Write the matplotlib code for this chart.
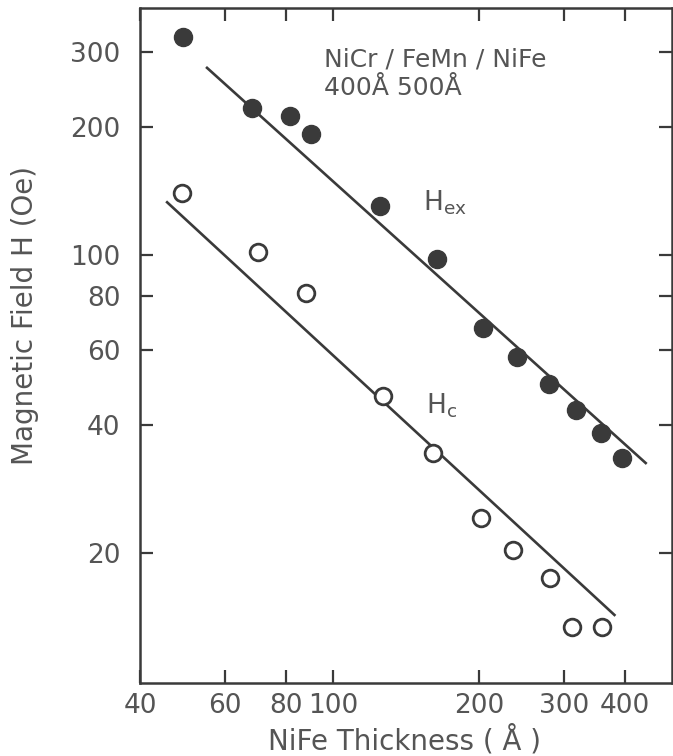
import numpy as np
import matplotlib
matplotlib.use('Agg')
import matplotlib.pyplot as plt
from matplotlib.ticker import FixedLocator, NullLocator, FixedFormatter

# H_ex (filled circles)
hex_thick = [49, 68, 81.5, 90, 125, 164, 204, 240, 279, 317, 357, 394]
hex_field = [325, 221, 212, 192, 130, 98, 67.4, 57.6, 49.8, 43.3, 38.2, 33.4]
# H_c (open circles)
hc_thick = [48.8, 70, 88, 127, 161, 202, 235, 281, 312, 359]
hc_field = [140, 101.6, 81.4, 46.7, 34.3, 24.1, 20.3, 17.5, 13.4, 13.4]
# fitted lines (end points)
hex_fit_x = [55, 442]
hex_fit_y = [275, 32.5]
hc_fit_x = [45.5, 381]
hc_fit_y = [133, 14.3]

xticks = [40, 60, 80, 100, 200, 300, 400]
yticks = [20, 40, 60, 80, 100, 200, 300]

INK = '#3a3a3a'
TXT = '#555555'

fig = plt.figure(figsize=(6.73, 7.56), dpi=100)
ax = fig.add_axes([140/673, 1 - 683/756, 1 - 140/673 - 0.002, (683 - 8)/756])

ax.plot(hex_fit_x, hex_fit_y, color=INK, lw=1.9)
ax.plot(hc_fit_x, hc_fit_y, color=INK, lw=1.9)
ax.plot(hex_thick, hex_field, 'o', color=INK, ms=13, mec=INK)
ax.plot(hc_thick, hc_field, 'o', mfc='white', mec=INK, mew=2, ms=12)

ax.set_xscale('log')
ax.set_yscale('log')
ax.set_xlim(40, 500)
ax.set_ylim(9.9, 380)

ax.xaxis.set_major_locator(FixedLocator(xticks))
ax.xaxis.set_major_formatter(FixedFormatter([str(v) for v in xticks]))
ax.xaxis.set_minor_locator(NullLocator())
ax.yaxis.set_major_locator(FixedLocator(yticks))
ax.yaxis.set_major_formatter(FixedFormatter([str(v) for v in yticks]))
ax.yaxis.set_minor_locator(NullLocator())

ax.tick_params(which='major', direction='in', length=9.5, width=1.6,
               color=INK, top=True, right=True, labelsize=19, labelcolor=TXT)
ax.tick_params(axis='y', pad=14)
ax.tick_params(axis='x', pad=7)
for s in ax.spines.values():
    s.set_color(INK)
    s.set_linewidth(1.8)

fig.text(25/673, 1 - 316/756, 'Magnetic Field H (Oe)', rotation=90,
         ha='center', va='center', fontsize=20, color=TXT)
fig.text(405/673, 1 - 740/756, 'NiFe Thickness ( Å )',
         ha='center', va='center', fontsize=20, color=TXT)

ax.text(0.346, 0.923, 'NiCr / FeMn / NiFe', transform=ax.transAxes,
        fontsize=18, color=TXT, va='center')
ax.text(0.346, 0.881, '400Å 500Å', transform=ax.transAxes,
        fontsize=18, color=TXT, va='center')
ax.text(0.532, 0.712, r'H$_{\mathregular{ex}}$', transform=ax.transAxes,
        fontsize=19, color=TXT, va='center')
ax.text(0.538, 0.41, r'H$_{\mathregular{c}}$', transform=ax.transAxes,
        fontsize=19, color=TXT, va='center')

fig.savefig('out.png', dpi=100, facecolor='white')
